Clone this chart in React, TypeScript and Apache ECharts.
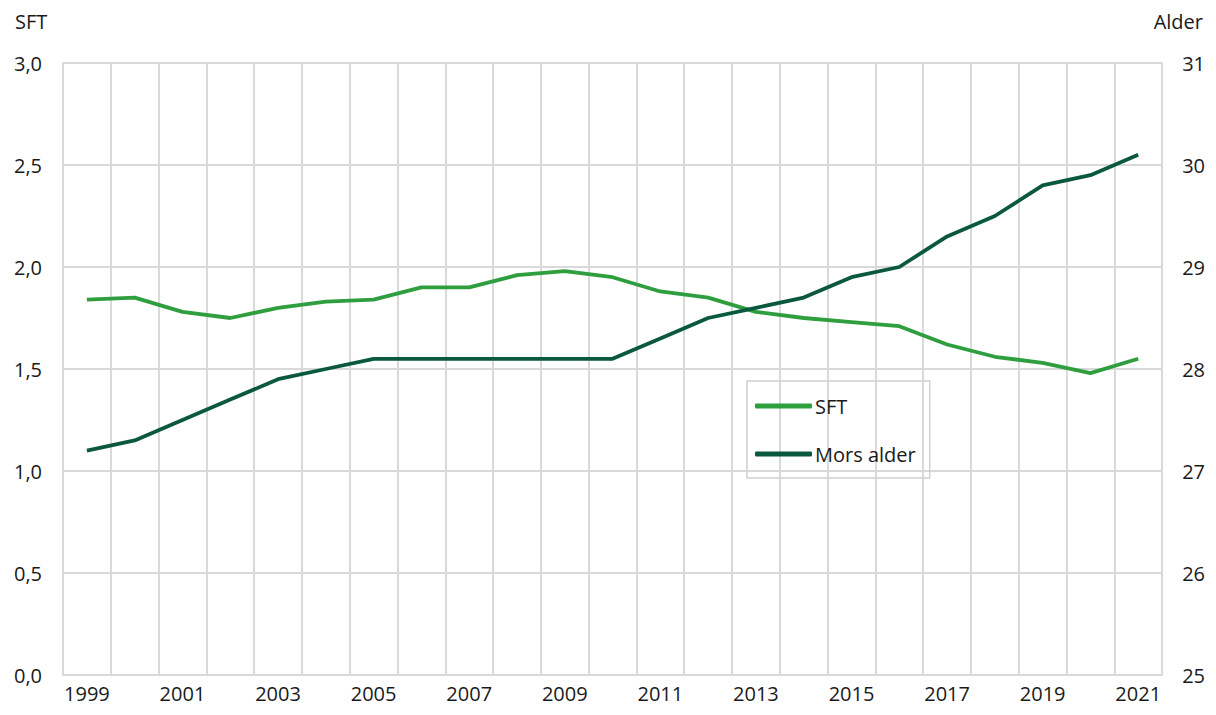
import React, { useEffect, useRef } from "react";
import * as echarts from "echarts";

const years = ["1999","2000","2001","2002","2003","2004","2005","2006","2007","2008","2009","2010","2011","2012","2013","2014","2015","2016","2017","2018","2019","2020","2021"];
const sft = [1.84,1.85,1.78,1.75,1.80,1.83,1.84,1.90,1.90,1.96,1.98,1.95,1.88,1.85,1.78,1.75,1.73,1.71,1.62,1.56,1.53,1.48,1.55];
const morsAlder = [27.2,27.3,27.5,27.7,27.9,28.0,28.1,28.1,28.1,28.1,28.1,28.1,28.3,28.5,28.6,28.7,28.9,29.0,29.3,29.5,29.8,29.9,30.1];

const FONT = "'Open Sans', 'Noto Sans', sans-serif";
const TXT = "#1a1a1a";
const GRID = "#d9d9d9";

export default function App() {
  const ref = useRef<HTMLDivElement>(null);
  useEffect(() => {
    const chart = echarts.init(ref.current!, null, { renderer: "svg" });
    chart.setOption({
      animation: false,
      textStyle: { fontFamily: FONT },
      grid: { left: 55, right: 41, top: 55, bottom: 32, containLabel: false },
      legend: {
        orient: "vertical",
        left: 739,
        top: 373,
        padding: [15, 14, 14, 8],
        itemGap: 28,
        itemWidth: 57,
        itemHeight: 5,
        icon: "roundRect",
        borderColor: "#d0d0d0",
        borderWidth: 1.5,
        textStyle: { fontFamily: FONT, fontSize: 20, color: TXT, padding: [0, 0, 0, -2] },
        data: ["SFT", "Mors alder"],
      },
      graphic: [
        { type: "text", left: 7, top: 3, style: { text: "SFT", font: `20px ${FONT}`, fill: TXT } },
        { type: "text", right: 5, top: 3, style: { text: "Alder", font: `20px ${FONT}`, fill: TXT } },
      ],
      xAxis: {
        type: "category",
        data: years,
        boundaryGap: true,
        axisLine: { show: true, lineStyle: { color: GRID, width: 2 } },
        axisTick: { show: false },
        splitLine: { show: true, interval: 0, lineStyle: { color: GRID, width: 2 } },
        axisLabel: { interval: 1, color: TXT, fontSize: 20, fontFamily: FONT, margin: 8 },
      },
      yAxis: [
        {
          type: "value",
          min: 0,
          max: 3,
          interval: 0.5,
          axisLine: { show: true, lineStyle: { color: GRID, width: 2 } },
          axisTick: { show: false },
          splitLine: { show: true, lineStyle: { color: GRID, width: 2 } },
          axisLabel: {
            color: TXT, fontSize: 20, fontFamily: FONT, margin: 21,
            formatter: (v: number) => v.toFixed(1).replace(".", ","),
          },
        },
        {
          type: "value",
          min: 25,
          max: 31,
          interval: 1,
          position: "right",
          axisLine: { show: true, lineStyle: { color: GRID, width: 2 } },
          axisTick: { show: false },
          splitLine: { show: false },
          axisLabel: { color: TXT, fontSize: 20, fontFamily: FONT, margin: 20 },
        },
      ],
      series: [
        {
          name: "SFT",
          type: "line",
          data: sft,
          yAxisIndex: 0,
          symbol: "none",
          color: "#2f9e3f",
          lineStyle: { width: 3.8, color: "#2f9e3f" },
        },
        {
          name: "Mors alder",
          type: "line",
          data: morsAlder,
          yAxisIndex: 1,
          symbol: "none",
          color: "#0b5841",
          lineStyle: { width: 3.8, color: "#0b5841" },
        },
      ],
    });
    return () => chart.dispose();
  }, []);
  return <div ref={ref} style={{ width: 1200, height: 699 }} />;
}
